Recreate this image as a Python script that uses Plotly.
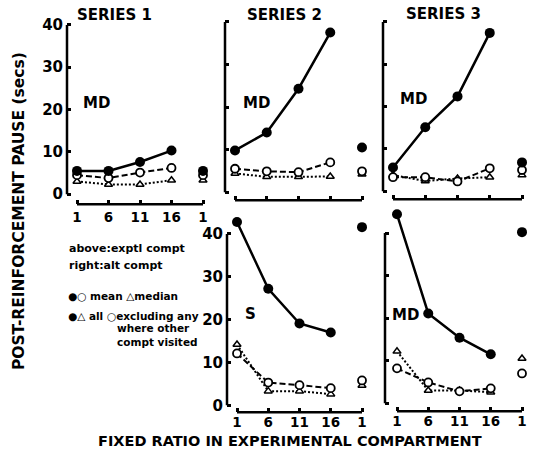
import plotly.graph_objects as go

W, H = 536, 469

# ---------------- data ----------------
FR = [1, 6, 11, 16]          # fixed ratio in experimental compartment
ALT_X = 21                   # position of the alternative-compartment point (FR 1)
x_tickvals = [1, 6, 11, 16, 21]
x_ticktext = ["1", "6", "11", "16", "1"]
y_tickvals = [0, 10, 20, 30, 40]

# Series 1 (MD)
s1_mean = [5.5, 5.5, 7.6, 10.3]
s1_excl = [4.5, 3.8, 5.1, 6.2]
s1_median = [3.0, 2.3, 2.3, 3.3]
s1_alt = [5.5, 4.5, 3.3]          # mean, excluding, median

# Series 2 top (MD)
s2_mean = [9.8, 14.0, 24.3, 37.5]
s2_excl = [5.5, 4.9, 4.7, 7.0]
s2_median = [4.4, 3.6, 3.6, 3.7]
s2_alt = [10.5, 4.9, 4.2]

# Series 3 top (MD)
s3_mean = [5.6, 15.1, 22.4, 37.4]
s3_excl = [3.3, 3.3, 2.3, 5.4]
s3_median = [3.8, 2.4, 3.0, 3.3]
s3_alt = [6.8, 5.0, 3.8]

# Series 2 bottom (S)
s2b_mean = [42.8, 27.2, 19.1, 17.0]
s2b_excl = [12.1, 5.3, 4.7, 4.0]
s2b_median = [14.2, 3.3, 3.3, 2.6]
s2b_alt = [41.6, 5.8, 4.6]

# Series 3 bottom (MD)
s3b_mean = [44.4, 21.1, 15.4, 11.5]
s3b_excl = [8.2, 4.9, 2.8, 3.5]
s3b_median = [12.2, 3.0, 3.0, 2.6]
s3b_alt = [40.2, 7.0, 10.5]

panel_data = [
    (s1_mean, s1_excl, s1_median, s1_alt),
    (s2_mean, s2_excl, s2_median, s2_alt),
    (s3_mean, s3_excl, s3_median, s3_alt),
    (s2b_mean, s2b_excl, s2b_median, s2b_alt),
    (s3b_mean, s3b_excl, s3b_median, s3b_alt),
]

# ---------------- layout geometry (pixels) ----------------
# yaxis_px, fr1_px, alt_px, xaxis_px, y0_px, y40_px, top_px, show x labels, show y labels, x label standoff
geom = [
    (67, 77, 203, 205, 195, 25, 5, True, True, 3),
    (225, 235, 362, 201, 193, 22, 5, False, False, 0),
    (383, 393, 522, 200, 192, 22, 5, False, False, 0),
    (227, 237, 362, 414, 407, 235, 203, True, True, 0),
    (385, 397, 522, 413, 405, 234, 203, True, False, 0),
]

FONT = "DejaVu Sans"
BLACK = "#000000"

fig = go.Figure()
layout = dict(
    width=W, height=H,
    margin=dict(l=0, r=0, t=0, b=0),
    paper_bgcolor="white", plot_bgcolor="rgba(0,0,0,0)",
    showlegend=False,
    font=dict(family=FONT, color=BLACK, weight="bold"),
)
shapes = []
annotations = []

for i, (g, d) in enumerate(zip(geom, panel_data)):
    yax_px, fr1_px, alt_px, xax_px, y0_px, y40_px, top_px, showxl, showyl, xstand = g
    right_px = alt_px + 8
    sx = (alt_px - fr1_px) / (ALT_X - 1)
    sy = (y0_px - y40_px) / 40.0
    xr = [1 - (fr1_px - yax_px) / sx, ALT_X + (right_px - alt_px) / sx]
    yr = [-(xax_px - y0_px) / sy, 40 + (y40_px - top_px) / sy]
    n = "" if i == 0 else str(i + 1)
    xa, ya = "x" + n, "y" + n
    layout["xaxis" + n] = dict(
        domain=[yax_px / W, right_px / W], range=xr, anchor=ya,
        showgrid=False, zeroline=False, showline=False,
        ticks="inside", ticklen=4, tickwidth=2.5, tickcolor=BLACK,
        tickvals=x_tickvals, ticktext=x_ticktext, showticklabels=showxl,
        tickfont=dict(family=FONT, size=13.5, color=BLACK, weight="bold"),
        ticklabelstandoff=xstand, fixedrange=True,
    )
    layout["yaxis" + n] = dict(
        domain=[1 - xax_px / H, 1 - top_px / H], range=yr, anchor=xa,
        showgrid=False, zeroline=False, showline=False,
        ticks="inside", ticklen=4, tickwidth=2.5, tickcolor=BLACK,
        tickvals=y_tickvals, showticklabels=showyl,
        tickfont=dict(family=FONT, size=15, color=BLACK, weight="bold"),
        ticklabelstandoff=3, fixedrange=True,
    )
    # axis lines (offset "bracket" style)
    shapes.append(dict(type="line", xref=xa + " domain", yref=ya, x0=0, x1=0, y0=0, y1=40,
                       line=dict(color=BLACK, width=2.5)))
    shapes.append(dict(type="line", xref=xa, yref=ya + " domain", x0=1, x1=ALT_X, y0=0, y1=0,
                       line=dict(color=BLACK, width=2.5)))

    mean, excl, median, alt = d
    # median (dotted, open triangles)
    fig.add_trace(go.Scatter(x=FR, y=median, xaxis=xa, yaxis=ya, mode="lines+markers",
                             line=dict(color=BLACK, width=2, dash="2px,2px"),
                             marker=dict(symbol="triangle-up", size=7, color="white",
                                         line=dict(color=BLACK, width=1.5)),
                             cliponaxis=False))
    # excluding (dashed, open circles)
    fig.add_trace(go.Scatter(x=FR, y=excl, xaxis=xa, yaxis=ya, mode="lines+markers",
                             line=dict(color=BLACK, width=2, dash="6px,3px"),
                             marker=dict(symbol="circle", size=8, color="white",
                                         line=dict(color=BLACK, width=1.8)),
                             cliponaxis=False))
    # mean, all (solid, filled circles)
    fig.add_trace(go.Scatter(x=FR, y=mean, xaxis=xa, yaxis=ya, mode="lines+markers",
                             line=dict(color=BLACK, width=2.5),
                             marker=dict(symbol="circle", size=10, color=BLACK),
                             cliponaxis=False))
    # alternative compartment points
    fig.add_trace(go.Scatter(x=[ALT_X], y=[alt[2]], xaxis=xa, yaxis=ya, mode="markers",
                             marker=dict(symbol="triangle-up", size=7, color="white",
                                         line=dict(color=BLACK, width=1.5)), cliponaxis=False))
    fig.add_trace(go.Scatter(x=[ALT_X], y=[alt[1]], xaxis=xa, yaxis=ya, mode="markers",
                             marker=dict(symbol="circle", size=8, color="white",
                                         line=dict(color=BLACK, width=1.8)), cliponaxis=False))
    fig.add_trace(go.Scatter(x=[ALT_X], y=[alt[0]], xaxis=xa, yaxis=ya, mode="markers",
                             marker=dict(symbol="circle", size=10, color=BLACK), cliponaxis=False))


def ann(text, px, py, size, xanchor="center", angle=0):
    annotations.append(dict(text=text, x=px / W, y=1 - py / H, xref="paper", yref="paper",
                            xanchor=xanchor, yanchor="middle", showarrow=False, textangle=angle,
                            font=dict(family=FONT, size=size, color=BLACK, weight="bold")))


ann("SERIES 1", 114, 15, 15)
ann("SERIES 2", 284, 15, 15)
ann("SERIES 3", 443, 14, 15)
ann("MD", 96, 103, 15)
ann("MD", 256, 103, 15)
ann("MD", 413, 99, 15)
ann("S", 250, 315, 15)
ann("MD", 405, 316, 15)
ann("POST-REINFORCEMENT PAUSE (secs)", 19, 212, 15.5, angle=-90)
ann("FIXED RATIO IN EXPERIMENTAL COMPARTMENT", 290, 443, 14.5)
ann("above:exptl compt", 67, 250, 11, xanchor="left")
ann("right:alt compt", 67, 267, 11, xanchor="left")
ann("●○ mean △median", 66, 297, 10.5, xanchor="left")
ann("●△ all", 66, 317, 10.5, xanchor="left")
ann("○excluding any", 105, 317, 10.5, xanchor="left")
ann("where other", 115, 329, 10.5, xanchor="left")
ann("compt visited", 115, 343, 10.5, xanchor="left")

layout["shapes"] = shapes
layout["annotations"] = annotations
fig.update_layout(**layout)
fig.write_html("out.html")
